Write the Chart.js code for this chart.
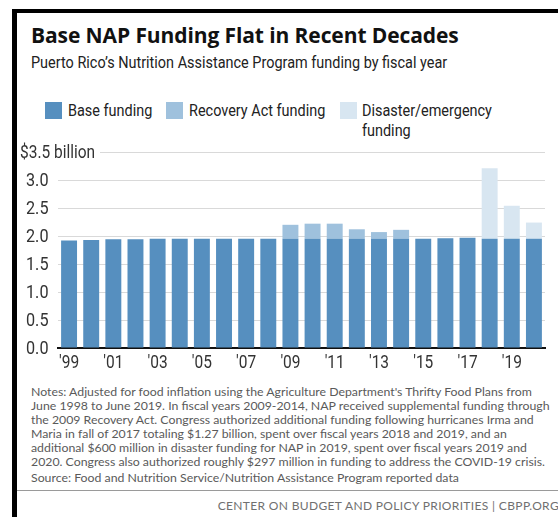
<!DOCTYPE html>
<html>
<head>
<meta charset="utf-8">
<script src="https://cdn.jsdelivr.net/npm/chart.js@4.4.1/dist/chart.umd.min.js"></script>
<style>
  html, body { margin: 0; padding: 0; background: #fff; }
  #page { position: relative; width: 558px; height: 517px; overflow: hidden; background: #fff; }
  .bar-top { position: absolute; left: 12px; top: 9px; width: 560px; height: 4px; background: #000; }
  .bar-left { position: absolute; left: 12px; top: 9px; width: 5px; height: 520px; background: #000; }
  .rule { position: absolute; left: 17px; top: 490px; width: 560px; height: 1px; background: #9a9a9a; }
  .title { position: absolute; left: 31px; top: 21px; font: 700 21px "Open Sans", sans-serif; color: #111; white-space: nowrap; letter-spacing: -0.1px; }
  .narrow { position: absolute; font: 17px "Roboto", sans-serif; color: #222; white-space: nowrap; transform: scaleX(0.85); transform-origin: 0 0; line-height: 20px; }
  .key { position: absolute; width: 17px; height: 17px; }
  .notes { position: absolute; left: 31px; top: 385px; font: 12.3px "Lato", sans-serif; color: #5a5a5a; line-height: 14px; white-space: nowrap; }
  .src { position: absolute; left: 31px; top: 470px; font: 12.3px "Lato", sans-serif; color: #5a5a5a; white-space: nowrap; }
  .foot { position: absolute; right: -1px; top: 498px; font: 12px "Lato", sans-serif; color: #707070; letter-spacing: 0.35px; white-space: nowrap; }
  #wrap { position: absolute; left: 0; top: 140px; width: 558px; height: 240px; }
</style>
</head>
<body>
<div id="page">
  <div class="bar-top"></div>
  <div class="bar-left"></div>
  <div class="title">Base NAP Funding Flat in Recent Decades</div>
  <div class="narrow" style="left:31px; top:52px;">Puerto Rico’s Nutrition Assistance Program funding by fiscal year</div>

  <div class="key" style="left:45px; top:102px; background:#568fbf;"></div>
  <div class="narrow" style="left:68px; top:100px;">Base funding</div>
  <div class="key" style="left:166px; top:102px; background:#9fc1dd;"></div>
  <div class="narrow" style="left:189px; top:100px;">Recovery Act funding</div>
  <div class="key" style="left:340px; top:102px; background:#d8e6f1;"></div>
  <div class="narrow" style="left:362px; top:100px;">Disaster/emergency<br>funding</div>

  <div id="wrap"><canvas id="chart"></canvas></div>

  <div class="notes">Notes: Adjusted for food inflation using the Agriculture Department's Thrifty Food Plans from<br>June 1998 to June 2019. In fiscal years 2009-2014, NAP received supplemental funding through<br>the 2009 Recovery Act. Congress authorized additional funding following hurricanes Irma and<br>Maria in fall of 2017 totaling $1.27 billion, spent over fiscal years 2018 and 2019, and an<br>additional $600 million in disaster funding for NAP in 2019, spent over fiscal years 2019 and<br>2020. Congress also authorized roughly $297 million in funding to address the COVID-19 crisis.</div>
  <div class="src">Source: Food and Nutrition Service/Nutrition Assistance Program reported data</div>
  <div class="rule"></div>
  <div class="foot">CENTER ON BUDGET AND POLICY PRIORITIES | CBPP.ORG</div>
</div>

<script>
// fiscal years 1999-2020, $ billions
const years = ["'99", "'00", "'01", "'02", "'03", "'04", "'05", "'06", "'07", "'08", "'09",
               "'10", "'11", "'12", "'13", "'14", "'15", "'16", "'17", "'18", "'19", "'20"];
const baseFunding = [1.92, 1.93, 1.94, 1.94, 1.95, 1.95, 1.95, 1.95, 1.95, 1.95, 1.95,
                     1.95, 1.95, 1.95, 1.95, 1.95, 1.95, 1.96, 1.97, 1.95, 1.95, 1.95];
const recoveryAct = [0, 0, 0, 0, 0, 0, 0, 0, 0, 0, 0.25,
                     0.27, 0.27, 0.17, 0.12, 0.16, 0, 0, 0, 0, 0, 0];
const disaster = [0, 0, 0, 0, 0, 0, 0, 0, 0, 0, 0,
                  0, 0, 0, 0, 0, 0, 0, 0, 1.26, 0.59, 0.29];
const yTicks = [0, 0.5, 1, 1.5, 2, 2.5, 3, 3.5];
const yLabels = ["0.0", "0.5", "1.0", "1.5", "2.0", "2.5", "3.0", "$3.5 billion"];

const tickFont = '18px "Roboto", sans-serif';

// condensed text: squeeze the glyphs horizontally
function narrowText(ctx, text, x, y, align, sx) {
  ctx.save();
  ctx.translate(x, y);
  ctx.scale(sx, 1);
  ctx.textAlign = align;
  ctx.fillText(text, 0, 0);
  ctx.restore();
}

// axis labels; the top y label spells out the unit
const axisLabels = {
  id: 'axisLabels',
  afterDraw(chart) {
    const ctx = chart.ctx;
    const y = chart.scales.y;
    const x = chart.scales.x;
    ctx.save();
    ctx.font = tickFont;
    ctx.textBaseline = 'middle';
    yTicks.forEach((v, i) => {
      const py = y.getPixelForValue(v) + 1;
      if (i === yTicks.length - 1) {
        ctx.fillStyle = '#fff';
        ctx.fillRect(18, py - 11, 82, 20);
        ctx.fillStyle = '#333';
        narrowText(ctx, yLabels[i], 20, py, 'left', 0.86);
      } else {
        ctx.fillStyle = '#333';
        narrowText(ctx, yLabels[i], 26, py, 'left', 0.9);
      }
    });
    years.forEach((lab, i) => {
      if (i % 2 !== 0) return;
      narrowText(ctx, lab, x.getPixelForValue(i), chart.chartArea.bottom + 15, 'center', 0.86);
    });
    ctx.restore();
  }
};

const ctx = document.getElementById('chart');
const chart = new Chart(ctx, {
  type: 'bar',
  data: {
    labels: years,
    datasets: [
      { label: 'Base funding', data: baseFunding, backgroundColor: '#568fbf' },
      { label: 'Recovery Act funding', data: recoveryAct, backgroundColor: '#9fc1dd' },
      { label: 'Disaster/emergency funding', data: disaster, backgroundColor: '#d8e6f1' }
    ]
  },
  options: {
    responsive: true,
    maintainAspectRatio: false,
    animation: false,
    layout: { padding: { left: 0, right: 13, top: 12, bottom: 0 } },
    datasets: { bar: { categoryPercentage: 1, barPercentage: 0.72, borderWidth: 0 } },
    plugins: { legend: { display: false }, tooltip: { enabled: false } },
    scales: {
      x: {
        stacked: true,
        grid: { display: false, drawTicks: false },
        border: { display: true, color: '#111', width: 2 },
        ticks: { display: false },
        afterFit: s => { s.height = 32; }
      },
      y: {
        stacked: true,
        min: 0,
        max: 3.5,
        ticks: { display: false, stepSize: 0.5 },
        grid: {
          drawTicks: false,
          color: c => (c.tick.value === 0 ? 'rgba(0,0,0,0)' : '#d9d9d9'),
          lineWidth: 1
        },
        border: { display: false },
        afterFit: s => { s.width = 58; }
      }
    }
  },
  plugins: [axisLabels]
});
</script>
</body>
</html>
